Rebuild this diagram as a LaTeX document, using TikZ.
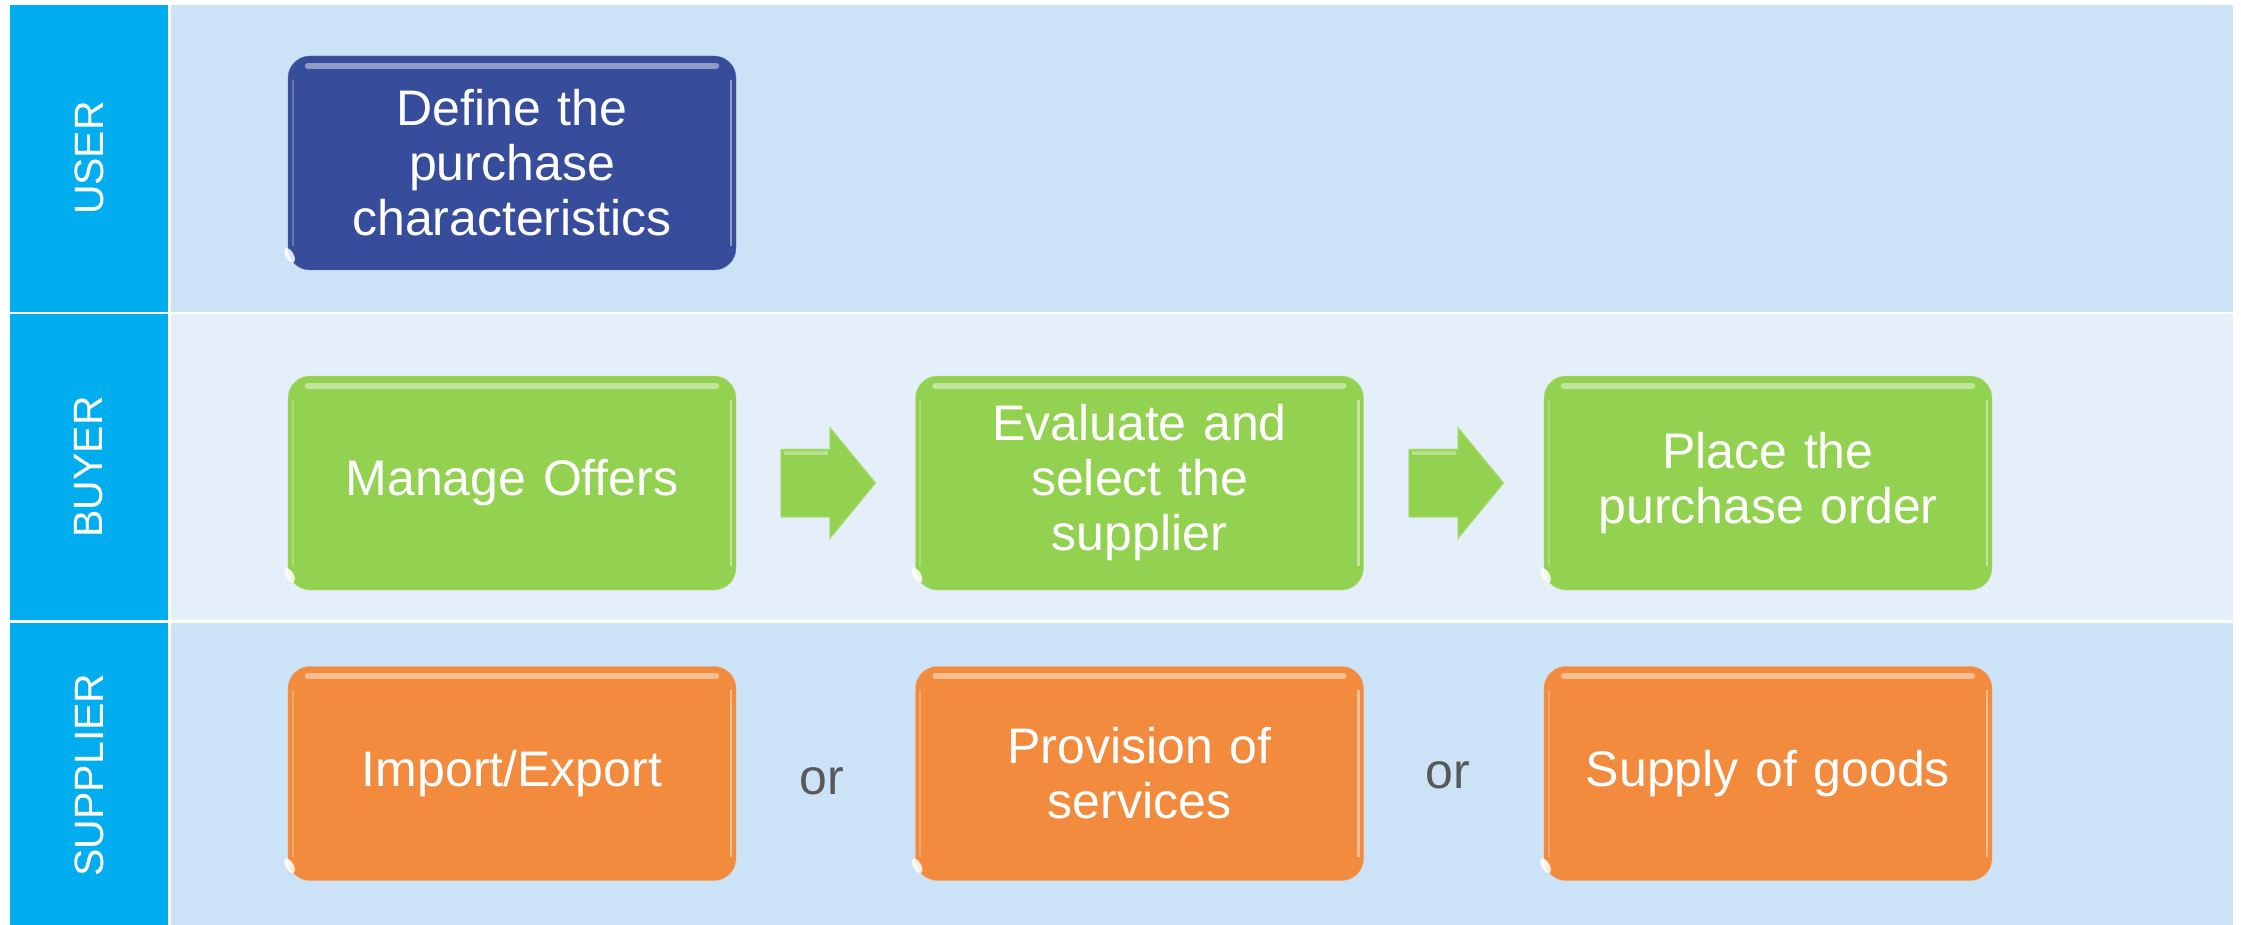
\documentclass[tikz,border=0pt]{standalone}
\usepackage{fontspec}
\setmainfont{Liberation Sans}
\usetikzlibrary{calc}
\definecolor{laneA}{HTML}{CCE2F6}
\definecolor{laneB}{HTML}{E4EFFA}
\definecolor{labcol}{HTML}{00ADEF}
\definecolor{bluebox}{HTML}{374C9A}
\definecolor{greenbox}{HTML}{93D150}
\definecolor{orangebox}{HTML}{F28B3E}
\definecolor{ortext}{HTML}{595959}
\newcommand{\glossbox}[2]{%
  \draw[line width=6pt, #2!45!white, opacity=0.8, line cap=round]
    ([xshift=20pt,yshift=-10pt]#1.north west) -- ([xshift=-20pt,yshift=-10pt]#1.north east);
  \draw[line width=2.5pt, white, opacity=0.45]
    ([xshift=-5pt,yshift=-24pt]#1.north east) -- ([xshift=-5pt,yshift=24pt]#1.south east);
  \draw[line width=2pt, #2!60!white, opacity=0.6]
    ([xshift=5pt,yshift=-24pt]#1.north west) -- ([xshift=5pt,yshift=24pt]#1.south west);
  \fill[white, opacity=0.85, rotate around={30:([xshift=9pt,yshift=12pt]#1.south west)}]
    ([xshift=9pt,yshift=12pt]#1.south west) ellipse (4pt and 8pt);
}
\tikzset{
  lanelabel/.style={text=white, font=\fontsize{41}{45}\selectfont, rotate=90, inner sep=0pt},
  procbox/.style={rounded corners=22pt, minimum width=448pt, minimum height=214pt,
    text width=430pt, align=center, text=white, inner sep=0pt,
    font=\fontsize{50}{55}\selectfont},
  ornode/.style={text=ortext, font=\fontsize{50}{55}\selectfont, inner sep=0pt},
  blockarrow/.style={fill=greenbox, draw=greenbox!70!white, line width=1pt}
}
\begin{document}
\begin{tikzpicture}[x=1pt,y=-1pt]
\useasboundingbox (0,0) rectangle (2241,925);
\fill[white] (0,0) rectangle (2241,925);
% lanes
\fill[labcol] (10,5) rectangle (168,312);
\fill[labcol] (10,314) rectangle (168,620);
\fill[labcol] (10,623) rectangle (168,925);
\fill[laneA] (171,5) rectangle (2233,312);
\fill[laneB] (171,314) rectangle (2233,620);
\fill[laneA] (171,623) rectangle (2233,925);
% lane labels
\node[lanelabel] (luser) at (89,158) {USER};
\node[lanelabel] (lbuyer) at (89,467) {BUYER};
\node[lanelabel] (lsupp) at (89,775) {SUPPLIER};
% boxes
\node[procbox, fill=bluebox, draw=bluebox!80!white] (b1) at (512,163) {Define the\\purchase\\characteristics};
\node[procbox, fill=greenbox, draw=greenbox!70!white] (b21) at (512,483) {Manage Offers};
\node[procbox, fill=greenbox, draw=greenbox!70!white] (b22) at (1139.5,483) {Evaluate and\\select the\\supplier};
\node[procbox, fill=greenbox, draw=greenbox!70!white] (b23) at (1768,483) {Place the\\purchase order};
\node[procbox, fill=orangebox, draw=orangebox!80!white] (b31) at (512,773.5) {Import/Export};
\node[procbox, fill=orangebox, draw=orangebox!80!white] (b32) at (1139.5,773.5) {Provision of\\services};
\node[procbox, fill=orangebox, draw=orangebox!80!white] (b33) at (1768,773.5) {Supply of goods};
\glossbox{b1}{bluebox}
\glossbox{b21}{greenbox}
\glossbox{b22}{greenbox}
\glossbox{b23}{greenbox}
\glossbox{b31}{orangebox}
\glossbox{b32}{orangebox}
\glossbox{b33}{orangebox}
% block arrows
\coordinate (a1) at ($(b21.east)!0.5!(b22.west)+(2,0)$);
\coordinate (a2) at ($(b22.east)!0.5!(b23.west)+(2,0)$);
\foreach \c in {a1,a2}{
  \draw[blockarrow] (\c) ++(-47,-34) -- ++(49,0) -- ++(0,-22) -- ++(46,56) -- ++(-46,56) -- ++(0,-22) -- ++(-49,0) -- cycle;
  \draw[line width=4pt, greenbox!50!white, opacity=0.7] (\c) ++(-44,-30) -- ++(44,0);
}
% or labels
\node[ornode] (or1) at ($(b31.east)!0.5!(b32.west)+(-4,8)$) {or};
\node[ornode] (or2) at ($(b32.east)!0.5!(b33.west)+(-6,2)$) {or};
\end{tikzpicture}
\end{document}
